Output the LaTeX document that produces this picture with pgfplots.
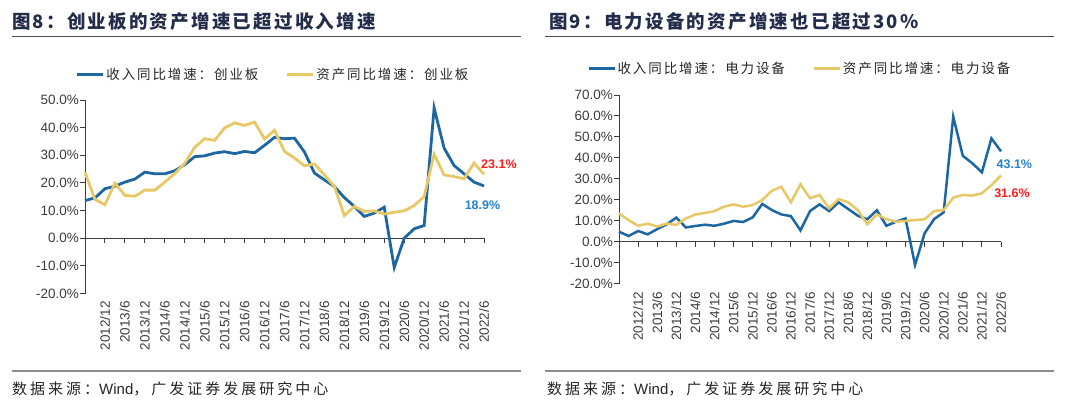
\documentclass[border=0pt]{standalone}
\usepackage{fontspec}
\setmainfont{Liberation Sans}
\newfontfamily\cjkt{Noto Sans CJK SC}[LetterSpace=12]
\newfontfamily\cjkl{Noto Sans CJK SC}[LetterSpace=14]
\newfontfamily\cjks{Noto Sans CJK SC}[LetterSpace=20]
\usepackage{pgfplots}
\usepackage{pgfplotstable}
\pgfplotsset{compat=1.18}
\definecolor{blueline}{RGB}{28,102,162}
\definecolor{yellowline}{RGB}{232,200,102}
\definecolor{titlecol}{RGB}{35,45,75}
\definecolor{labblue}{RGB}{40,130,200}
\definecolor{labred}{RGB}{250,30,30}
\definecolor{tickcol}{RGB}{60,60,60}

\pgfplotstableread{
i a b
0 13.6 23.8
1 14.6 14.0
2 17.9 12.1
3 18.8 19.9
4 20.3 15.5
5 21.4 15.2
6 23.9 17.4
7 23.3 17.4
8 23.3 20.3
9 24.4 23.4
10 26.6 27.1
11 29.5 32.9
12 29.8 36.0
13 30.8 35.4
14 31.3 39.9
15 30.6 41.7
16 31.4 40.8
17 30.9 42.0
18 33.6 35.9
19 36.5 39.0
20 36.0 31.4
21 36.2 29.0
22 31.2 26.2
23 23.6 26.9
24 21.1 22.9
25 18.7 18.7
26 14.7 8.2
27 11.5 11.5
28 7.9 9.7
29 9.1 9.9
30 11.2 8.7
31 -10.6 9.4
32 0.0 9.9
33 3.4 11.8
34 4.6 15.1
35 47.1 30.4
36 32.6 22.9
37 26.3 22.3
38 23.3 21.5
39 20.3 27.2
40 18.9 23.1
}\lefttab

\pgfplotstableread{
i a b
0 4.8 13.5
1 2.7 10.3
2 5.1 7.6
3 3.5 8.6
4 6.0 7.2
5 8.3 8.7
6 11.5 8.0
7 6.8 11.1
8 7.5 13.0
9 8.1 13.7
10 7.6 14.6
11 8.6 16.7
12 9.9 17.8
13 9.4 16.7
14 11.6 17.5
15 18.0 19.9
16 15.1 24.3
17 13.0 26.2
18 12.2 18.8
19 5.4 27.4
20 14.6 20.7
21 17.8 22.3
22 14.6 15.9
23 18.8 20.4
24 15.6 18.8
25 12.4 15.1
26 10.7 8.3
27 15.0 13.0
28 7.6 10.8
29 9.5 9.5
30 11.1 9.9
31 -11.1 10.3
32 4.0 10.7
33 10.8 14.6
34 14.0 15.1
35 59.7 21.0
36 41.0 22.3
37 37.4 22.0
38 33.1 23.1
39 49.3 27.0
40 43.1 31.6
}\righttab

\pgfplotsset{
  mychart/.style={
    scale only axis,
    clip=false,
    xmin=0, xmax=40,
    axis y line=left,
    axis x line=middle,
    axis line style={-, draw=tickcol, line width=1pt},
    xtick={0,2,...,40},
    xticklabels={2012/6,2012/12,2013/6,2013/12,2014/6,2014/12,2015/6,2015/12,2016/6,2016/12,2017/6,2017/12,2018/6,2018/12,2019/6,2019/12,2020/6,2020/12,2021/6,2021/12,2022/6},
    tick style={draw=tickcol, line width=1pt},
    major tick length=5pt,
    tick align=outside,
    xticklabel style={rotate=90, anchor=east, font=\fontsize{13.5}{14}\selectfont, text=tickcol, inner sep=1pt},
    yticklabel style={font=\fontsize{13.5}{14}\selectfont, text=tickcol, inner sep=1pt},
    legend cell align=left,
    legend image code/.code={\draw[##1, line width=3pt] (0pt,0pt) -- (26pt,0pt);},
    legend style={draw=none, fill=none, legend columns=2, font=\cjkl\fontsize{13.5}{14}\selectfont, text=black!85,
      /tikz/every even column/.style={column sep=26pt}, nodes={inner sep=1.5pt}},
  }
}

\newcommand\srctext{{\cjks 数据来源：}{\fontsize{15}{16}\selectfont Wind}{\cjks ，广发证券发展研究中心}}

\begin{document}
\begin{tikzpicture}[x=1pt,y=1pt]
\useasboundingbox (0,0) rectangle (1080,408);
% titles
\node[anchor=west, inner sep=0pt, text=titlecol, font=\cjkt\bfseries\fontsize{18.5}{20}\selectfont] at (12,386) {图8：创业板的资产增速已超过收入增速};
\node[anchor=west, inner sep=0pt, text=titlecol, font=\cjkt\bfseries\fontsize{18.5}{20}\selectfont] at (549,386) {图9：电力设备的资产增速也已超过30\%};
\draw[black!70, line width=1pt] (12,371.5) -- (521,371.5);
\draw[black!70, line width=1pt] (545,371.5) -- (1054,371.5);
% source
\draw[black!45, line width=1.8pt] (12,37) -- (521,37);
\draw[black!45, line width=1.8pt] (545,37) -- (1054,37);
\node[anchor=west, inner sep=0pt, text=black!85, font=\fontsize{15}{16}\selectfont] at (12,19) {\srctext};
\node[anchor=west, inner sep=0pt, text=black!85, font=\fontsize{15}{16}\selectfont] at (547,19) {\srctext};

\begin{axis}[mychart,
  at={(85pt,114.5pt)}, anchor=south west,
  width=399pt, height=193.5pt,
  ymin=-20, ymax=50,
  ytick={-20,-10,0,10,20,30,40,50},
  yticklabels={-20.0\%,-10.0\%,0.0\%,10.0\%,20.0\%,30.0\%,40.0\%,50.0\%},
  xticklabel shift=57pt,
  legend style={at={(0.471,1.134)}, anchor=center},
]
\addplot[blueline, line width=2.8pt] table[x=i, y=a] {\lefttab};
\addlegendentry{收入同比增速：创业板}
\addplot[yellowline, line width=2.8pt] table[x=i, y=b] {\lefttab};
\addlegendentry{资产同比增速：创业板}
\node[text=labred, font=\bfseries\fontsize{12.5}{13}\selectfont] at (axis cs:41.5,26.7) {23.1\%};
\node[text=labblue, font=\bfseries\fontsize{12.5}{13}\selectfont] at (axis cs:39.85,12.1) {18.9\%};
\end{axis}

\begin{axis}[mychart,
  at={(619pt,124.4pt)}, anchor=south west,
  width=382pt, height=188.6pt,
  ymin=-20, ymax=70,
  ytick={-20,-10,0,10,20,30,40,50,60,70},
  yticklabels={-20.0\%,-10.0\%,0.0\%,10.0\%,20.0\%,30.0\%,40.0\%,50.0\%,60.0\%,70.0\%},
  xticklabel shift=44pt,
  legend style={at={(0.4725,1.138)}, anchor=center},
]
\addplot[blueline, line width=2.5pt] table[x=i, y=a] {\righttab};
\addlegendentry{收入同比增速：电力设备}
\addplot[yellowline, line width=2.5pt] table[x=i, y=b] {\righttab};
\addlegendentry{资产同比增速：电力设备}
\node[text=labblue, font=\bfseries\fontsize{12.5}{13}\selectfont] at (axis cs:41.4,37.2) {43.1\%};
\node[text=labred, font=\bfseries\fontsize{12.5}{13}\selectfont] at (axis cs:41.15,23.2) {31.6\%};
\end{axis}
\end{tikzpicture}
\end{document}
